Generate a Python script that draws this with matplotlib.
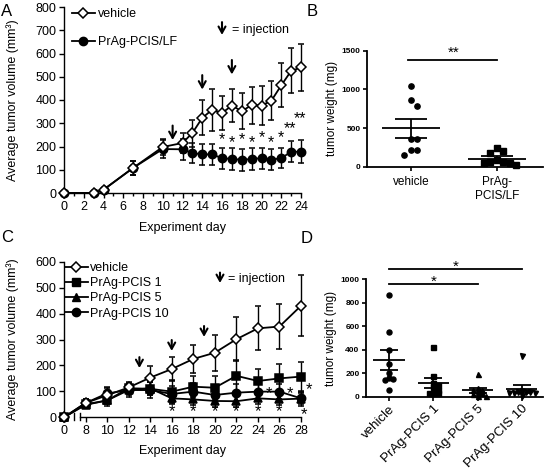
import numpy as np
import matplotlib
matplotlib.use('Agg')
import matplotlib.pyplot as plt
from matplotlib.lines import Line2D
from matplotlib.ticker import MultipleLocator

plt.rcParams['font.family'] = ['Liberation Sans', 'DejaVu Sans']

# ---------------- Panel A data ----------------
days_A = [0, 3, 4, 7, 10, 12, 13, 14, 15, 16, 17, 18, 19, 20, 21, 22, 23, 24]
veh_A = [0, 0, 14, 108, 198, 215, 258, 323, 358, 344, 376, 352, 378, 376, 397, 463, 525, 540]
veh_A_err = [0, 0, 5, 30, 35, 45, 58, 75, 90, 75, 70, 78, 80, 85, 85, 95, 97, 100]
lf_A = [0, 0, 14, 108, 189, 188, 172, 166, 166, 150, 146, 143, 146, 150, 143, 150, 177, 178]
lf_A_err = [0, 0, 5, 30, 40, 45, 45, 45, 45, 45, 48, 48, 48, 45, 45, 43, 45, 50]
inj_A = [11, 14, 17]
inj_A_top = [290, 507, 572]
star_A_days = [16, 17, 18, 19, 20, 21, 22, 22.85, 23.95]
star_A_y = [228, 216, 231, 216, 240, 216, 240, 276, 318]
star_A_txt = ['*', '*', '*', '*', '*', '*', '*', '**', '**']

# ---------------- Panel B data ----------------
B_labels = ['vehicle', 'PrAg-\nPCIS/LF']
B_vehicle = [1040, 860, 785, 360, 360, 215, 210, 145]
B_lf = [203, 177, 246, 65, 65, 83, 44, 22, 44]

# ---------------- Panel C data ----------------
days_C = [0, 8, 10, 12, 14, 16, 18, 20, 22, 24, 26, 28]
veh_C = [0, 55, 85, 115, 153, 186, 225, 249, 301, 343, 350, 430]
veh_C_err = [0, 15, 28, 20, 45, 45, 53, 70, 85, 85, 85, 118]
p1_C = [0, 50, 65, 112, 110, 99, 118, 114, 160, 140, 150, 157]
p1_C_err = [0, 12, 20, 20, 25, 45, 40, 45, 60, 45, 55, 58]
p5_C = [0, 48, 65, 105, 112, 73, 69, 63, 62, 73, 69, 72]
p5_C_err = [0, 12, 15, 20, 25, 22, 20, 22, 22, 22, 20, 20]
p10_C = [0, 55, 92, 105, 105, 90, 99, 86, 95, 99, 99, 73]
p10_C_err = [0, 15, 25, 25, 30, 30, 35, 30, 35, 30, 30, 30]
inj_C = [13, 16, 19]
inj_C_top = [232, 298, 352]
starlow_C_days = [16, 18, 20, 22, 24, 26, 28.5]
starlow_C_y = [20, 20, 20, 20, 20, 20, 12]
starhigh_C_days = [25, 27, 29]
starhigh_C_y = [92, 92, 105]

# ---------------- Panel D data ----------------
D_labels = ['vehicle', 'PrAg-PCIS 1', 'PrAg-PCIS 5', 'PrAg-PCIS 10']
D_vehicle = [870, 555, 400, 280, 200, 140, 155, 160, 60]
D_p1 = [420, 175, 115, 100, 80, 35, 30, 35, 60]
D_p5 = [190, 70, 60, 55, 40, 30, 20, 10, 5]
D_p10 = [345, 45, 40, 40, 35, 30, 40, 35, 10]

W, H = 548, 474
fig = plt.figure(figsize=(W / 100, H / 100), dpi=100)


def axes_px(l, t, r, b):
    return fig.add_axes([l / W, 1 - b / H, (r - l) / W, (b - t) / H])


axA = axes_px(64, 7, 301, 193)
axB = axes_px(366.7, 50.7, 543, 166.7)
axC = axes_px(64, 261.7, 301, 417.3)
axD = axes_px(365.7, 279.3, 543, 396.7)

FS = 9


def eb(ax, x, y, e, marker, mfc, ms, z, capsize=2.5):
    c = ax.errorbar(x, y, yerr=e, fmt='-', marker=marker, color='k', mfc=mfc,
                    mec='k', mew=1.1, ms=ms, lw=1.3, elinewidth=1.0,
                    capsize=capsize, capthick=1.0, zorder=z)
    c.lines[0].set_clip_on(False)
    for a in c.lines[1]:
        a.set_clip_on(False)
    for a in c.lines[2]:
        a.set_clip_on(False)
    return c


def style_line_axes(ax):
    for s in ['top', 'right']:
        ax.spines[s].set_visible(False)
    for s in ['left', 'bottom']:
        ax.spines[s].set_linewidth(1.0)
    ax.tick_params(axis='both', labelsize=FS, width=1.0, length=3.5, direction='out', pad=2)


def arrow(ax, x, ytop, length):
    ax.annotate('', xy=(x, ytop - length), xytext=(x, ytop),
                arrowprops=dict(arrowstyle='->,head_length=0.45,head_width=0.25', lw=1.5,
                                color='k', shrinkA=0, shrinkB=0),
                annotation_clip=False)


# ---------------- Panel A ----------------
eb(axA, days_A, lf_A, lf_A_err, 'o', 'k', 6, 3)
eb(axA, days_A, veh_A, veh_A_err, 'D', 'white', 5.5, 4)
axA.set_xlim(0, 24)
axA.set_ylim(0, 800)
axA.xaxis.set_major_locator(MultipleLocator(2))
axA.xaxis.set_minor_locator(MultipleLocator(1))
axA.yaxis.set_major_locator(MultipleLocator(100))
style_line_axes(axA)
axA.tick_params(axis='x', which='minor', length=2.5, width=1.0, direction='out')
axA.set_xlabel('Experiment day', fontsize=FS)
axA.xaxis.set_label_coords(0.5, -0.155)
axA.set_ylabel('Average tumor volume (mm³)', fontsize=FS)
axA.yaxis.set_label_coords(-0.19, 0.5)
for d, t in zip(inj_A, inj_A_top):
    arrow(axA, d, t, 62)
arrow(axA, 16.0, 735, 55)
axA.text(17.0, 702, '= injection', fontsize=FS, va='center', ha='left')
for d, y, t in zip(star_A_days, star_A_y, star_A_txt):
    axA.text(d, y, t, fontsize=11.5, ha='center', va='center')
hA = [Line2D([], [], color='k', marker='D', mfc='white', mec='k', mew=1.1, ms=5.5, lw=1.3),
      Line2D([], [], color='k', marker='o', mfc='k', ms=6, lw=1.3)]
axA.legend(hA, ['vehicle', 'PrAg-PCIS/LF'], loc='upper left',
           bbox_to_anchor=(72 / W, 1 - 8 / H), bbox_transform=fig.transFigure,
           frameon=False, fontsize=FS, handlelength=1.8, handletextpad=0.3,
           labelspacing=1.3, borderpad=0, borderaxespad=0)


# ---------------- swarm helper ----------------
def swarm(vals, ypx, d, frac):
    order = sorted(range(len(vals)), key=lambda i: -vals[i])
    placed = []
    offs = [0.0] * len(vals)
    cands = [0]
    for m in range(1, 12):
        cands += [m, -m]
    for i in order:
        y = vals[i] * ypx
        x = 0.0
        for c in cands:
            x = c * d
            if all((x - px) ** 2 + (y - py) ** 2 >= (frac * d) ** 2 for px, py in placed):
                break
        placed.append((x, y))
        offs[i] = x
    return np.array(offs)


def dot_panel(ax, groups, markers, ypx, xpx, d, frac, ms, half, capsize):
    for i, (vals, mk) in enumerate(zip(groups, markers)):
        offs = swarm(vals, ypx, d, frac) / xpx
        ax.plot(i + offs, vals, ls='none', marker=mk, color='k', ms=ms, clip_on=False, zorder=3)
        m = np.mean(vals)
        s = np.std(vals, ddof=1) / np.sqrt(len(vals))
        ax.hlines(m, i - half, i + half, color='k', lw=1.3, zorder=4)
        ax.errorbar(i, m, yerr=s, fmt='none', ecolor='k', elinewidth=1.3,
                    capsize=capsize, capthick=1.3, zorder=4)
    for s in ['top', 'right']:
        ax.spines[s].set_visible(False)
    for s in ['left', 'bottom']:
        ax.spines[s].set_linewidth(1.3)
    ax.tick_params(axis='both', width=1.2, length=3, direction='out', pad=1.5)
    for lab in ax.get_yticklabels():
        lab.set_fontsize(6)
        lab.set_fontweight('bold')


# ---------------- Panel B ----------------
axB.set_xlim(-0.514, 1.535)
axB.set_ylim(0, 1500)
axB.set_yticks([0, 500, 1000, 1500])
dot_panel(axB, [B_vehicle, B_lf], ['o', 's'], 116.0 / 1500, 176.3 / 2.049, 6.5, 0.9, 3.8, 0.34, 11.5)
axB.set_xticks([0, 1])
axB.set_xticklabels(B_labels, fontsize=8.5)
axB.tick_params(axis='x', pad=4)
axB.set_ylabel('tumor weight (mg)', fontsize=8.5)
axB.yaxis.set_label_coords(-0.16, 0.5)
axB.plot([-0.035, 1.0], [1380, 1380], color='k', lw=1.3, clip_on=False)
axB.text(0.5, 1385, '**', fontsize=11, ha='center', va='bottom')

# ---------------- Panel C ----------------
pos_C = np.arange(len(days_C))
eb(axC, pos_C, p5_C, p5_C_err, '^', 'k', 6, 3)
eb(axC, pos_C, p10_C, p10_C_err, 'o', 'k', 6, 3)
eb(axC, pos_C, p1_C, p1_C_err, 's', 'k', 5.8, 3)
eb(axC, pos_C, veh_C, veh_C_err, 'D', 'white', 5.5, 4)
axC.set_xlim(0, len(days_C) - 1)
axC.set_ylim(0, 600)
axC.set_xticks(pos_C)
axC.set_xticklabels([str(d) for d in days_C])
axC.yaxis.set_major_locator(MultipleLocator(100))
style_line_axes(axC)
axC.spines['bottom'].set_bounds(0.74, len(days_C) - 1)
for bx in [0.48, 0.74]:
    axC.plot([bx, bx], [-0.02, 0.025], transform=axC.get_xaxis_transform(),
             color='k', lw=1.0, clip_on=False)
axC.set_xlabel('Experiment day', fontsize=FS)
axC.xaxis.set_label_coords(0.5, -0.18)
axC.set_ylabel('Average tumor volume (mm³)', fontsize=FS)
axC.yaxis.set_label_coords(-0.19, 0.5)


def day2pos(d):
    return np.interp(d, days_C, pos_C)


for d, t in zip(inj_C, inj_C_top):
    arrow(axC, day2pos(d), t, 42)
arrow(axC, 7.24, 558, 40)
axC.text(7.62, 535, '= injection', fontsize=FS, va='center', ha='left')
for d, y in zip(starlow_C_days, starlow_C_y):
    axC.text(day2pos(d) if d <= 28 else 11.15, y, '*', fontsize=12, ha='center', va='center')
for d, y in zip(starhigh_C_days, starhigh_C_y):
    axC.text(day2pos(d) if d <= 28 else 11.35, y, '*', fontsize=12, ha='center', va='center')
hC = [Line2D([], [], color='k', marker='D', mfc='white', mec='k', mew=1.1, ms=5.5, lw=1.3),
      Line2D([], [], color='k', marker='s', ms=5.8, lw=1.3),
      Line2D([], [], color='k', marker='^', ms=6, lw=1.3),
      Line2D([], [], color='k', marker='o', ms=6, lw=1.3)]
axC.legend(hC, ['vehicle', 'PrAg-PCIS 1', 'PrAg-PCIS 5', 'PrAg-PCIS 10'], loc='upper left',
           bbox_to_anchor=(65 / W, 1 - 262 / H), bbox_transform=fig.transFigure,
           frameon=False, fontsize=FS, handlelength=1.8, handletextpad=0.2,
           labelspacing=0.26, borderpad=0, borderaxespad=0)

# ---------------- Panel D ----------------
axD.set_xlim(-0.526, 3.476)
axD.set_ylim(0, 1000)
axD.set_yticks([0, 200, 400, 600, 800, 1000])
dot_panel(axD, [D_vehicle, D_p1, D_p5, D_p10], ['o', 's', '^', 'v'],
          117.4 / 1000, 177.3 / 4.002, 4.2, 0.75, 3.6, 0.35, 6.5)
axD.set_xticks(range(4))
axD.set_xticklabels(D_labels, fontsize=9.5, rotation=45, ha='right', rotation_mode='anchor')
axD.set_ylabel('tumor weight (mg)', fontsize=8.5)
axD.yaxis.set_label_coords(-0.16, 0.5)
axD.plot([0, 2], [957, 957], color='k', lw=1.3, clip_on=False)
axD.text(1.0, 975, '*', fontsize=11, ha='center', va='center')
axD.plot([0, 3], [1085, 1085], color='k', lw=1.3, clip_on=False)
axD.text(1.5, 1105, '*', fontsize=11, ha='center', va='center')

# ---------------- panel letters ----------------
for lbl, x, y in [('A', 1, 12), ('B', 307, 12), ('C', 1, 238), ('D', 301, 239)]:
    fig.text(x / W, 1 - y / H, lbl, fontsize=12, ha='left', va='center')

fig.savefig('out.png', dpi=100)
